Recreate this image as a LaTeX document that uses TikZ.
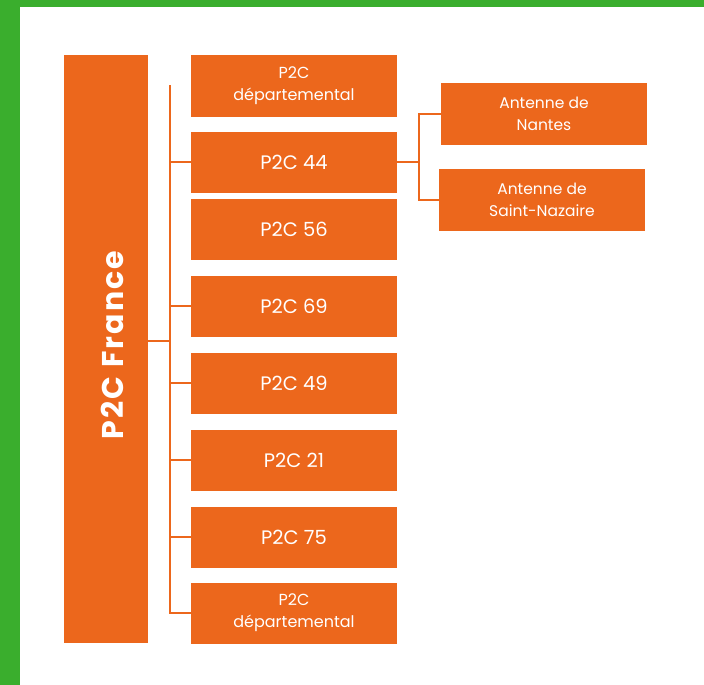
\documentclass[tikz,border=0pt]{standalone}
\usepackage{fontspec}
\setmainfont{Poppins}
\definecolor{p2corange}{HTML}{EC671C}
\definecolor{p2cgreen}{HTML}{3AAE2D}
\tikzset{
  box/.style={fill=p2corange, text=white, inner sep=0pt, align=center,
    minimum width=206pt, minimum height=61pt},
  big/.style={font=\fontsize{19.5}{24}\selectfont},
  small/.style={font=\fontsize{16}{22}\selectfont},
  link/.style={draw=p2corange, line width=2pt},
}
\begin{document}
\begin{tikzpicture}[x=1pt, y=-1pt]
    \useasboundingbox (0,0) rectangle (704,685);
    \fill [p2cgreen] (0,0) rectangle (20,685);
    \fill [p2cgreen] (0,0) rectangle (704,7);

    \node[box, minimum width=84pt, minimum height=588pt] (france) at (106,349) {};
    \node[text=white, inner sep=0pt, rotate=90] (francetext) at (112,345)
        {\fontsize{30}{32}\selectfont\bfseries\addfontfeatures{LetterSpace=7}P2C France};

    \node[box, small, minimum height=62pt] (dep1) at (294,86) {P2C\\départemental};
    \node[box, big] (p44) at (294,162) {P2C 44};
    \node[box, big] (p56) at (294,229) {P2C 56};
    \node[box, big] (p69) at (294,306) {P2C 69};
    \node[box, big] (p49) at (294,383) {P2C 49};
    \node[box, big] (p21) at (294,460) {P2C 21};
    \node[box, big] (p75) at (294,537) {P2C 75};
    \node[box, small] (dep2) at (294,613) {P2C\\départemental};

    \node[box, minimum height=62pt, font=\fontsize{15.5}{22}\selectfont] (nantes) at (544,114) {Antenne de\\Nantes};
    \node[box, minimum height=62pt, font=\fontsize{15.5}{22}\selectfont] (nazaire) at (542,200) {Antenne de\\Saint-Nazaire};

    \coordinate (top) at (170,85);
    \coordinate (hub) at (170,341);

    \draw [link] (top) -- (top |- dep2.west) -- (dep2.west);
    \draw [link] (hub) -- (france.east |- hub);
    \foreach \n in {p44,p69,p49,p21,p75}
        \draw [link] (\n.west) -- (\n.west -| top);

    \draw [link] (p44.east) -- ++(22,0) coordinate (split);
    \draw [link] (nantes.west) -- (nantes.west -| split) -- (nazaire.west -| split) -- (nazaire.west);
\end{tikzpicture}
\end{document}
